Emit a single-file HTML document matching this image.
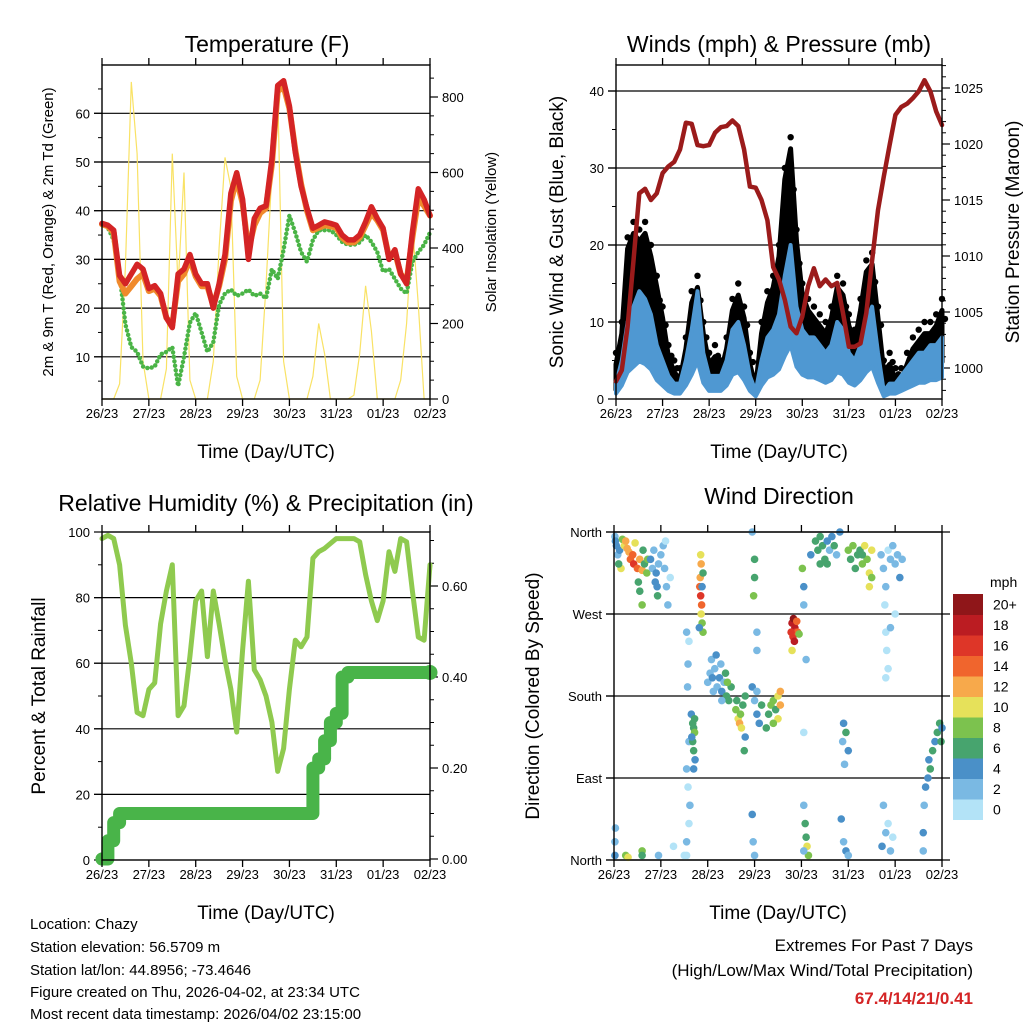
<!DOCTYPE html>
<html><head><meta charset="utf-8"><style>
html,body{margin:0;padding:0;background:#fff;}
svg{display:block;font-family:"Liberation Sans",Arial,sans-serif;}
</style></head><body>
<svg id="c" width="1024" height="1024" viewBox="0 0 1024 1024"></svg>
<script>
// ---------- DATA (3-hourly, 7 days) ----------
const dayLabels = ["26/23","27/23","28/23","29/23","30/23","31/23","01/23","02/23"];
const tempRed = [37.4,37,36,26.7,25,27,29,28,24,24.6,23,18,16,27,28,31,27,25,25,20,25,31,43.6,47.8,42.3,30,38.4,40.5,41,50.6,65.7,66.7,61.5,52,45,40.5,36.4,37,37.7,37.4,37,35,34,34,35,37.7,40.8,38.4,36.4,30,32,27,25,35.6,44.5,42.3,39];
const tempOrange = [37.2,36.8,35.5,25.5,23,24.5,26,27,23.5,24,22.5,18,16.5,25.5,27,30,26.5,24.5,24.5,20.5,24.5,30,42,46.5,41.5,32,37,39.5,40.5,49.5,64.5,65.5,61,52.5,45.5,40,36,36.5,37,36.8,36.5,34.5,33.5,33.5,34.5,37,39.5,38,36,30.5,31.5,27,25.5,34.5,42.5,41,39];
const dewGreen = [37.4,36.5,34,27,16.7,12,11,8,7.6,8,10.5,11,12,4,10,17,19,15,11,13,20.7,23,23.8,22.5,23,23.8,22.5,23,22,28,26,32,39,35.5,31.5,29.5,34,36,36,36,35,33.6,33,33,33.5,35,33.6,31.5,27.5,28,26,24,23,29.5,31.5,33,35.5];
const solar = [0,0,0,40,350,840,650,100, 0,0,0,80,650,300,600,50, 0,0,0,100,400,640,560,60, 0,0,0,50,300,600,820,100, 0,0,0,0,60,200,120,0, 0,0,0,10,120,300,180,0, 0,0,0,50,200,460,250,0, 0];
const windSpeed = [2,5,10,12,14,13,11,7,5,3,2,2,5,9,14,6,3,3,3,5,9,10,7,3,1,5,8,9,11,16,20,12,9,8,8,7,6,7,10,9,6,5,7,10,12,6,1,2,2,3,4,5,6,6,7,7,8];
const windGust = [6,10,21,23,22,23,20,16,12,7,5,4,8,14,16,10,6,7,5,8,13,15,12,6,3,10,14,16,20,30,34,22,15,13,12,11,10,12,16,15,11,9,13,18,19,12,5,6,4,4,6,8,9,10,10,11,13];
const pressure = [998.8,999.8,1003.7,1009.6,1015.6,1016,1015,1015.6,1017.4,1018,1018.4,1019.5,1021.9,1021.8,1019.9,1019.8,1019.9,1021,1021.5,1021.6,1022.1,1021.6,1019.5,1016.2,1016.1,1015,1013.2,1009,1007.9,1006.1,1003.7,1003.1,1004.6,1007.3,1008.9,1007.3,1007.9,1007.3,1007.6,1004.9,1001.9,1001.9,1002.2,1004.9,1009.6,1014.1,1017.1,1019.9,1022.6,1023.3,1023.6,1024.1,1024.7,1025.7,1024.7,1022.9,1021.7];
const relHum = [98,99,98,90,71.6,60,45,44,52,54,72,82,90,44,47,62,79,82,62,82,72,61,52,39,64,85,58,55,50,42,27,34,52,67,65,68,92,94,95,96.5,98,98,98,98,97,87,79,73,79,94,88,98,97,82,68,67,90];
const precip = [0,0.04,0.08,0.10,0.10,0.10,0.10,0.10,0.10,0.10,0.10,0.10,0.10,0.10,0.10,0.10,0.10,0.10,0.10,0.10,0.10,0.10,0.10,0.10,0.10,0.10,0.10,0.10,0.10,0.10,0.10,0.10,0.10,0.10,0.10,0.10,0.20,0.22,0.26,0.30,0.32,0.40,0.41,0.41,0.41,0.41,0.41,0.41,0.41,0.41,0.41,0.41,0.41,0.41,0.41,0.41,0.41];
// wind direction scatter: time (days), direction (deg), speed (mph)
const dirTime = [0.02,0.05,0.08,0.03,0.12,0.18,0.22,0.25,0.28,0.32,0.35,0.4,0.42,0.45,0.5,0.55,0.6,0.65,0.7,0.72,0.62,0.15,0.1,0.52,0.55,0.6,
0.78,0.82,0.85,0.9,0.92,0.95,1.0,1.05,1.1,1.08,1.12,0.88,0.93,1.15,1.2,
1.85,1.86,1.84,1.83,1.85,1.87,1.86,1.88,1.9,1.9,1.88,1.82,
1.55,1.6,1.58,1.57,1.6,1.55,1.58,1.62,1.6,1.55,1.27,1.5,
1.65,1.68,1.7,1.72,1.68,1.7,1.73,1.66,1.72,1.7,
2.0,2.05,2.1,2.15,2.2,2.25,2.3,2.35,2.4,2.45,2.5,2.08,2.18,2.28,2.38,2.42,2.3,2.12,
2.6,2.65,2.68,2.7,2.72,2.75,2.8,2.62,2.8,2.78,
2.95,3.0,3.05,3.1,3.15,3.05,3.0,3.0,2.98,3.05,3.05,2.97,3.0,2.95,2.95,
3.3,3.35,3.4,3.45,3.5,3.55,3.5,3.4,3.25,3.55,
3.8,3.83,3.86,3.88,3.82,3.9,3.85,3.92,3.78,3.8,3.95,
4.02,4.05,4.05,4.1,4.05,4.05,4.08,4.1,4.12,4.15,4.05,4.2,4.3,4.35,4.4,4.45,4.5,4.55,4.6,4.65,4.7,4.75,4.82,4.4,4.55,
5.0,5.05,5.1,5.15,5.2,5.25,5.3,5.35,5.4,5.45,5.45,5.5,5.5,5.3,
4.85,4.9,4.95,5.0,4.9,4.88,5.0,4.95,4.92,
5.7,5.75,5.8,5.85,5.9,5.95,6.0,6.05,6.1,6.15,5.78,5.8,5.82,5.85,5.8,5.9,6.0,5.75,5.8,5.72,5.85,5.9,5.95,
6.6,6.62,6.65,6.7,6.72,6.75,6.8,6.85,6.9,6.95,7.0,6.98,6.6,
0.02,0.03,0.02,0.25,0.3,0.6,0.6,0.95,1.55];
const dirDeg = [355,345,335,350,340,352,345,350,342,338,330,335,325,348,320,330,318,325,315,330,340,320,325,305,295,280,
330,320,340,315,300,325,335,345,350,320,300,305,290,280,310,
335,325,310,300,290,280,270,260,250,315,300,255,
250,240,215,190,130,100,80,60,40,20,15,5,
160,150,145,140,130,120,110,135,155,100,
195,205,200,210,190,200,185,195,180,175,190,220,225,215,205,195,175,185,
165,155,150,160,145,170,180,175,135,120,
190,175,160,150,170,185,330,310,290,250,230,20,5,50,360,
160,170,175,165,180,170,155,150,145,185,
260,265,255,250,245,262,240,250,250,230,248,
320,300,280,220,140,60,40,25,15,5,10,335,350,340,355,345,330,350,340,355,345,335,360,325,325,
340,330,345,320,335,340,325,345,330,315,300,310,340,335,
45,20,10,5,150,130,120,140,105,
335,320,300,340,330,345,325,335,310,330,280,250,230,210,200,255,270,60,30,15,40,10,25,
30,60,80,90,110,100,120,130,140,150,145,130,10,
20,35,5,5,3,10,5,5,5];
const dirSpeed = [3,4,3,4,4,9,10,12,13,12,14,15,16,11,14,12,13,7,8,9,7,10,6,7,6,9,
4,3,2,5,4,2,3,2,1,2,3,5,6,2,1,
11,12,13,15,16,15,10,9,8,6,5,4,
2,1,2,3,2,2,1,2,1,2,1,1,
4,6,7,8,7,6,5,4,7,5,
2,3,4,2,3,4,5,2,7,6,6,2,4,3,7,8,2,3,
8,11,12,9,10,7,6,7,5,6,
4,3,4,4,6,2,6,7,9,2,3,3,2,4,2,
7,8,9,7,11,12,10,8,6,13,
18,20,19,17,16,15,18,14,16,10,8,
8,4,3,2,1,2,6,7,10,8,2,4,6,7,6,6,7,5,3,4,6,2,4,6,6,
8,6,8,7,6,7,8,10,9,10,10,9,11,6,
4,3,4,2,4,3,5,6,3,
2,3,2,1,3,2,2,3,4,3,1,1,1,1,0,2,1,2,3,4,1,2,1,
4,3,4,4,5,6,6,5,7,7,5,6,3,
3,2,4,9,10,9,6,2,1];
const speedColors = ["#b3e3f7","#7ab9e3","#4a90c8","#47a46e","#7cc24e","#e6e15a","#f7a94b","#f0652d","#de3628","#bb1c22","#8f1619"];
const speedLabels = ["0","2","4","6","8","10","12","14","16","18","20+"];

// ---------- HELPERS ----------
const NS = "http://www.w3.org/2000/svg";
const svg = document.getElementById("c");
function mk(tag, attrs, parent){ const e=document.createElementNS(NS,tag); for(const k in attrs) e.setAttribute(k,attrs[k]); (parent||svg).appendChild(e); return e; }
function txt(s, x, y, size, anchor, rot, parent, extra){ const a={x:x,y:y,"font-size":size,"text-anchor":anchor||"middle",fill:"#000"}; if(rot) a.transform="rotate(-90 "+x+" "+y+")"; if(extra) for(const k in extra) a[k]=extra[k]; const t=mk("text",a,parent); t.textContent=s; return t; }
const N = 57;
function tAt(i){ return i/8; }
function pts(xf, yf, arr){ return arr.map((v,i)=>xf(tAt(i)).toFixed(1)+","+yf(v).toFixed(1)).join(" "); }

function frame(x0,x1,y0,y1,name){
  const g=mk("g",{});
  
  
  return g;
}
function xAxis(g,x0,x1,y0,y1){
  const xs=d=>x0+(x1-x0)*d/7;
  for(let d=0; d<=7; d++){
    const X=xs(d);
    mk("line",{x1:X,y1:y0,x2:X,y2:y0-7,stroke:"#000","stroke-width":1.3},g);
    mk("line",{x1:X,y1:y1,x2:X,y2:y1+7,stroke:"#000","stroke-width":1.3},g);
    const t=txt(dayLabels[d],X,y1+19,13,"middle",false,g);
    
    
  }
  const tl=txt("Time (Day/UTC)",(x0+x1)/2,y1+59,19,"middle",false,g);
  
  
}
function box(g,x0,x1,y0,y1){
  const r=mk("rect",{x:x0,y:y0,width:x1-x0,height:y1-y0,fill:"none",stroke:"#000","stroke-width":1.4},g);
  
  
}
function grid(g,x0,x1,y,extR){
  mk("line",{x1:x0-8,y1:y,x2:x1+(extR||0),y2:y,stroke:"#000","stroke-width":1.2},g);
}
function yTicks(g,side,x,vals,yf,labels,size,minorVals){
  vals.forEach((v,i)=>{
    const Y=yf(v);
    const dx = side==="left" ? -8 : 8;
    mk("line",{x1:x,y1:Y,x2:x+dx,y2:Y,stroke:"#000","stroke-width":1.2},g);
    const t=txt(labels[i], side==="left"? x-12 : x+12, Y+5, size||13, side==="left"?"end":"start", false, g);
    
    
  });
  (minorVals||[]).forEach(v=>{
    const Y=yf(v); const dx = side==="left" ? -4 : 4;
    mk("line",{x1:x,y1:Y,x2:x+dx,y2:Y,stroke:"#000","stroke-width":1},g);
  });
}

// ---------- PANEL 1: TEMPERATURE ----------
(function(){
  const x0=102,x1=430,y0=65,y1=399;
  const g=frame(x0,x1,y0,y1,'temperature-panel');
  const xs=d=>x0+(x1-x0)*d/7;
  const yT=v=>405.5-4.87*v;
  const yS=v=>399-0.3775*v;
  const title=txt("Temperature (F)",267,52,23,"middle",false,g);
  
  
  [10,20,30,40,50,60].forEach(v=>grid(g,x0,x1,yT(v)));
  yTicks(g,"left",x0,[10,20,30,40,50,60],yT,["10","20","30","40","50","60"],13,[5,15,25,35,45,55,65]);
  yTicks(g,"right",x1,[0,200,400,600,800],yS,["0","200","400","600","800"],13,[50,100,150,250,300,350,450,500,550,650,700,750,850]);
  const sol=mk("polyline",{points:pts(xs,yS,solar),fill:"none",stroke:"#f9e265","stroke-width":1.2},g);
  
  
  const dg=mk("polyline",{points:pts(xs,yT,dewGreen),fill:"none",stroke:"#4ab446","stroke-width":4.5,"stroke-dasharray":"0 4.5","stroke-linecap":"round","stroke-linejoin":"round"},g);
  
  
  const org=mk("polyline",{points:pts(xs,yT,tempOrange),fill:"none",stroke:"#f08a2c","stroke-width":6,"stroke-linejoin":"round","stroke-linecap":"round"},g);
  
  
  const red=mk("polyline",{points:pts(xs,yT,tempRed),fill:"none",stroke:"#d42425","stroke-width":5.5,"stroke-linejoin":"round","stroke-linecap":"round"},g);
  
  
  box(g,x0,x1,y0,y1);
  xAxis(g,x0,x1,y0,y1);
  const l=txt("2m & 9m T (Red, Orange) & 2m Td (Green)",53,232,15,"middle",true,g);
  
  
  const r=txt("Solar Insolation (Yellow)",496,232,15,"middle",true,g);
  
  
})();

// ---------- PANEL 2: WINDS & PRESSURE ----------
(function(){
  const x0=616,x1=942,y0=65,y1=399;
  const g=frame(x0,x1,y0,y1,'winds-pressure-panel');
  const xs=d=>x0+(x1-x0)*d/7;
  const yW=v=>399-7.7*v;
  const yP=v=>368-(v-1000)*11.2;
  const title=txt("Winds (mph) & Pressure (mb)",779,52,23,"middle",false,g);
  
  
  [10,20,30,40].forEach(v=>grid(g,x0,x1,yW(v)));
  yTicks(g,"left",x0,[0,10,20,30,40],yW,["0","10","20","30","40"],13,[5,15,25,35]);
  yTicks(g,"right",x1,[1000,1005,1010,1015,1020,1025],yP,["1000","1005","1010","1015","1020","1025"],13,[998,999,1001,1002,1003,1004,1006,1007,1008,1009,1011,1012,1013,1014,1016,1017,1018,1019,1021,1022,1023,1024,1026,1027]);
  let up=windGust.map((v,i)=>xs(tAt(i)).toFixed(1)+","+yW(Math.max(v-1.5,0)).toFixed(1));
  let lo=windSpeed.map((v,i)=>xs(tAt(i)).toFixed(1)+","+yW(v*0.6).toFixed(1)).reverse();
  const band=mk("polygon",{points:up.concat(lo).join(" "),fill:"#000",stroke:"#000","stroke-width":5,"stroke-linejoin":"round"},g);
  
  
  windGust.forEach((v,i)=>{
    const c=mk("circle",{cx:xs(tAt(i)),cy:yW(v),r:3.2,fill:"#000"},g);
    
    
    const c2=mk("circle",{cx:xs(tAt(i))+3,cy:yW(v*0.8),r:3.2,fill:"#000"},g);
    
    
  });
  let bu=windSpeed.map((v,i)=>xs(tAt(i)).toFixed(1)+","+yW(v).toFixed(1));
  let bl=windSpeed.map((v,i)=>xs(tAt(i)).toFixed(1)+","+yW(v*0.35).toFixed(1)).reverse();
  const blue=mk("polygon",{points:bu.concat(bl).join(" "),fill:"#4f98d2",stroke:"#4f98d2","stroke-width":4,"stroke-linejoin":"round"},g);
  
  
  const pl=mk("polyline",{points:pts(xs,yP,pressure),fill:"none",stroke:"#9b1b1b","stroke-width":4.5,"stroke-linejoin":"round","stroke-linecap":"round"},g);
  
  
  box(g,x0,x1,y0,y1);
  xAxis(g,x0,x1,y0,y1);
  const l=txt("Sonic Wind & Gust (Blue, Black)",563,232,19,"middle",true,g);
  
  
  const r=txt("Station Pressure (Maroon)",1019,232,19,"middle",true,g);
  
  
})();

// ---------- PANEL 3: RH & PRECIP ----------
(function(){
  const x0=102,x1=430,y0=532,y1=860;
  const g=frame(x0,x1,y0,y1,'humidity-precip-panel');
  const xs=d=>x0+(x1-x0)*d/7;
  const yR=v=>860-3.28*v;
  const yPr=v=>859-455*v;
  const title=txt("Relative Humidity (%) & Precipitation (in)",266,511,23,"middle",false,g);
  
  
  [20,40,60,80].forEach(v=>grid(g,x0,x1,yR(v)));
  yTicks(g,"left",x0,[0,20,40,60,80,100],yR,["0","20","40","60","80","100"],13,[10,30,50,70,90]);
  yTicks(g,"right",x1,[0,0.2,0.4,0.6],yPr,["0.00","0.20","0.40","0.60"],13,[0.05,0.1,0.15,0.25,0.3,0.35,0.45,0.5,0.55,0.65,0.7]);
  const rh=mk("polyline",{points:pts(xs,yR,relHum),fill:"none",stroke:"#8fca4f","stroke-width":5,"stroke-linejoin":"round","stroke-linecap":"round"},g);
  
  
  let sp=[];
  precip.forEach((v,i)=>{ const X=xs(tAt(i)); if(i>0) sp.push(X.toFixed(1)+","+yPr(precip[i-1]).toFixed(1)); sp.push(X.toFixed(1)+","+yPr(v).toFixed(1)); });
  const pr=mk("polyline",{points:sp.join(" "),fill:"none",stroke:"#49b449","stroke-width":13,"stroke-linejoin":"round","stroke-linecap":"round"},g);
  
  
  const ed=mk("circle",{cx:xs(tAt(N-1)),cy:yPr(precip[N-1]),r:7.5,fill:"#49b449"},g);
  
  
  const st=mk("circle",{cx:xs(0),cy:yPr(precip[0]),r:6.5,fill:"#49b449"},g);
  
  
  box(g,x0,x1,y0,y1);
  xAxis(g,x0,x1,y0,y1);
  const l=txt("Percent & Total Rainfall",45,696,19,"middle",true,g);
  
  
})();

// ---------- PANEL 4: WIND DIRECTION ----------
(function(){
  const x0=614,x1=942,y0=532,y1=860;
  const g=frame(x0,x1,y0,y1,'wind-direction-panel');
  const xs=d=>x0+(x1-x0)*d/7;
  const yD=v=>860-v*328/360;
  const title=txt("Wind Direction",779,504,23,"middle",false,g);
  
  
  [0,90,180,270,360].forEach(v=>grid(g,x0,x1,yD(v),8));
  yTicks(g,"left",x0,[0,90,180,270,360],yD,["North","East","South","West","North"],13,[]);
  dirTime.forEach((t,i)=>{
    const ci=Math.min(10,Math.floor(dirSpeed[i]/2));
    const c=mk("circle",{cx:xs(t),cy:yD(dirDeg[i]),r:3.8,fill:speedColors[ci]},g);
    
    
  });
  box(g,x0,x1,y0,y1);
  xAxis(g,x0,x1,y0,y1);
  const l=txt("Direction (Colored By Speed)",539,696,19,"middle",true,g);
  
  
  const cb=mk("g",{});
  
  
  const h=20.5;
  for(let k=0;k<11;k++){
    const Y=594+(10-k)*h;
    const r=mk("rect",{x:953,y:Y,width:30,height:h+0.5,fill:speedColors[k]},cb);
    
    
    const t=txt(speedLabels[k],993,Y+h/2+5,14,"start",false,cb);
    
    
  }
  const u=txt("mph",990,587,14,"start",false,cb);
  
  
})();

// ---------- FOOTER ----------
(function(){
  const lines=["Location: Chazy","Station elevation: 56.5709 m","Station lat/lon: 44.8956; -73.4646","Figure created on Thu, 2026-04-02, at 23:34 UTC","Most recent data timestamp: 2026/04/02 23:15:00"];
  const ys=[935,958,981,1003,1025];
  lines.forEach((s,i)=>{
    const t=txt(s,30,ys[i]-6,15,"start",false,svg);
    
    
  });
  const a=txt("Extremes For Past 7 Days",973,951,17,"end",false,svg);
  
  
  const b=txt("(High/Low/Max Wind/Total Precipitation)",973,976,17,"end",false,svg);
  
  
  const c=txt("67.4/14/21/0.41",973,1004,17,"end",false,svg,{fill:"#d42425","font-weight":"bold"});
  
  
})();
</script>
</body></html>
